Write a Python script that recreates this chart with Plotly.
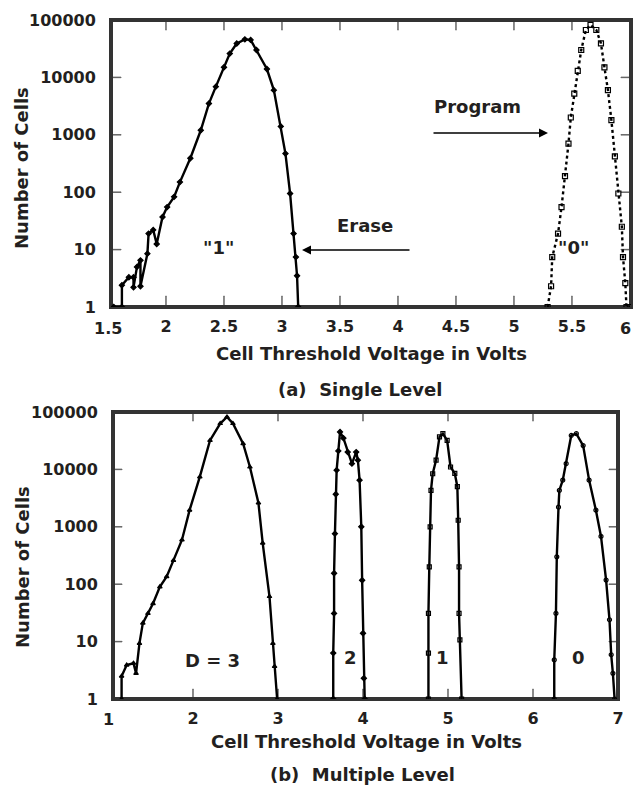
import plotly.graph_objects as go

W, H = 633, 795

# ---------------- data: (a) single level ----------------
erase1_v = [1.55, 1.62, 1.62, 1.68, 1.72, 1.72, 1.75, 1.78, 1.78, 1.84, 1.85, 1.89, 1.92, 1.97,
            2.01, 2.07, 2.12, 2.21, 2.30, 2.37, 2.43, 2.50, 2.55, 2.61, 2.68, 2.73, 2.78, 2.87,
            2.93, 2.99, 3.03, 3.07, 3.10, 3.12, 3.13, 3.14]
erase1_n = [1, 1, 2.4, 3.3, 3.3, 2.2, 5, 6.5, 2.3, 8.5, 19, 22, 12.5, 37,
            55, 83, 150, 390, 1200, 3500, 6900, 15000, 26000, 39000, 46000, 45000, 30000, 14000,
            6000, 1400, 470, 95, 19, 7.4, 3.5, 1]

prog0_v = [5.29, 5.32, 5.33, 5.38, 5.41, 5.44, 5.47, 5.49, 5.52, 5.55, 5.58, 5.62, 5.66,
           5.71, 5.75, 5.78, 5.81, 5.84, 5.87, 5.90, 5.93, 5.94, 5.96, 5.97, 6.0]
prog0_n = [1, 2.3, 7.4, 19, 55, 190, 700, 2000, 5200, 13000, 30000, 67000, 82000,
           67000, 39000, 15000, 6000, 1800, 420, 95, 25, 7.4, 2.6, 1, 1]

# ---------------- data: (b) multiple level ----------------
d3_v = [1.16, 1.16, 1.22, 1.30, 1.33, 1.37, 1.41, 1.47, 1.53, 1.61, 1.69, 1.77, 1.87, 1.96,
        2.08, 2.20, 2.32, 2.40, 2.47, 2.59, 2.67, 2.77, 2.82, 2.90, 2.94, 2.96, 2.99]
d3_n = [1, 2.5, 3.9, 4.2, 2.8, 9.3, 21, 31, 46, 90, 135, 260, 590, 1950,
        7400, 32000, 63000, 82000, 63000, 28000, 11000, 2600, 520, 61, 9.3, 3.7, 1]

d2_v = [3.65, 3.65, 3.66, 3.66, 3.67, 3.68, 3.69, 3.71, 3.73, 3.77, 3.82, 3.87, 3.92, 3.94,
        3.96, 3.98, 3.99, 4.00, 4.01, 4.02]
d2_n = [1, 6.3, 31, 155, 760, 3700, 9700, 21000, 45000, 35000, 20000, 12600, 20000, 14500,
        6500, 1000, 117, 14, 2.3, 1]

d1_v = [4.77, 4.77, 4.77, 4.78, 4.79, 4.80, 4.82, 4.86, 4.90, 4.94, 4.99, 5.03, 5.08, 5.11,
        5.12, 5.13, 5.13, 5.14, 5.16]
d1_n = [1, 6.3, 31, 200, 1000, 4300, 8400, 14500, 37000, 42000, 32000, 11000, 8500, 5000,
        1300, 200, 31, 10.7, 1]

d0_v = [6.25, 6.25, 6.27, 6.28, 6.30, 6.31, 6.35, 6.39, 6.45, 6.51, 6.59, 6.66, 6.74, 6.80,
        6.86, 6.90, 6.92, 6.94, 6.96]
d0_n = [1, 4.8, 31, 300, 2200, 4300, 6500, 12600, 39000, 42000, 26000, 6500, 1950, 680,
        118, 24, 5.9, 2.8, 1]

y_ticks = [1, 10, 100, 1000, 10000, 100000]
y_labels = ["1", "10", "100", "1000", "10000", "100000"]
xa_ticks = [2, 2.5, 3, 3.5, 4, 4.5, 5, 5.5]
xa_labels = ["2", "2.5", "3", "3.5", "4", "4.5", "5", "5.5"]
xb_ticks = [2, 3, 4, 5, 6, 7]
xb_labels = ["2", "3", "4", "5", "6", "7"]

# axis ranges (x in volts, y in decades of the log axis)
XA_RANGE = [1.526, 6.009]
XB_RANGE = [1.059, 7.0]
Y_RANGE = [0, 5]

# ---------------- styling ----------------
FONT = "DejaVu Sans"
TXT = "#231f20"
FRAME = "#333333"
TICKC = "#666666"
tickfont = dict(family=FONT, size=16, weight="bold", color=TXT)
labfont = dict(family=FONT, size=18, weight="bold", color=TXT)

def px(x):
    return x / W

def py(y):
    return 1 - y / H

# plot-area boxes in pixels: (left, right, top, bottom)
BOX_A = (111, 631, 20, 307)
BOX_B = (113, 618, 412, 699)

fig = go.Figure()

# frame + inside tick marks, drawn through the axes themselves
def frame(box, xa, ya, xr, xt, yt, lb, lt, ly):
    l, r, t, b = box
    ux = (xr[1] - xr[0]) / (r - l)
    uy = (Y_RANGE[1] - Y_RANGE[0]) / (b - t)
    ylo, yhi = 10 ** Y_RANGE[0], 10 ** Y_RANGE[1]
    tx, ty = [], []
    for v in xt:
        tx += [v, v, None, v, v, None]
        ty += [ylo, 10 ** (Y_RANGE[0] + lb * uy), None,
               yhi, 10 ** (Y_RANGE[1] - lt * uy), None]
    for v in yt:
        tx += [xr[0], xr[0] + ly * ux, None, xr[1], xr[1] - ly * ux, None]
        ty += [v, v, None, v, v, None]
    fig.add_trace(go.Scatter(x=tx, y=ty, xaxis=xa, yaxis=ya, mode="lines+markers",
                             line=dict(color=TICKC, width=1.5),
                             marker=dict(size=1, color=TICKC),
                             hoverinfo="skip", showlegend=False))
    fig.add_trace(go.Scatter(x=[xr[0], xr[1], xr[1], xr[0], xr[0]],
                             y=[ylo, ylo, yhi, yhi, ylo], xaxis=xa, yaxis=ya,
                             mode="lines+markers", line=dict(color=FRAME, width=4),
                             marker=dict(size=1, color=FRAME),
                             hoverinfo="skip", showlegend=False))

frame(BOX_A, "x", "y", XA_RANGE, xa_ticks, y_ticks[1:-1], 11, 10, 10)
frame(BOX_B, "x2", "y2", XB_RANGE, xb_ticks[:-1], y_ticks[1:-1], 10, 9, 9)

def add(xv, yv, xa, ya, symbol, size, dash="solid", lw=2.4):
    fig.add_trace(go.Scatter(
        x=xv, y=yv, xaxis=xa, yaxis=ya, mode="lines+markers",
        line=dict(color="black", width=lw, dash=dash),
        marker=dict(symbol=symbol, size=size, color="black",
                    line=dict(color="black", width=1.2)),
        showlegend=False))

add(erase1_v, erase1_n, "x", "y", "diamond", 4)
add(prog0_v, prog0_n, "x", "y", "square-open", 5, dash="dot", lw=2.4)
add(d3_v, d3_n, "x2", "y2", "triangle-up", 4)
add(d2_v, d2_n, "x2", "y2", "diamond", 4)
add(d1_v, d1_n, "x2", "y2", "square-open", 4)
add(d0_v, d0_n, "x2", "y2", "circle-open", 4)

# empty traces so the top/right overlay axes (frame sides) get drawn
fig.add_trace(go.Scatter(x=[], y=[], xaxis="x3", yaxis="y3", showlegend=False,
                         hoverinfo="skip"))
fig.add_trace(go.Scatter(x=[], y=[], xaxis="x4", yaxis="y4", showlegend=False,
                         hoverinfo="skip"))

axis_common = dict(showgrid=False, zeroline=False, showline=True, linecolor=FRAME,
                   linewidth=2, ticks="", tickfont=tickfont)
side_axis = dict(showgrid=False, zeroline=False, showline=True, linecolor=FRAME,
                 linewidth=2, ticks="", showticklabels=False)

fig.update_layout(
    width=W, height=H, margin=dict(l=0, r=0, t=0, b=0, autoexpand=False),
    paper_bgcolor="white", plot_bgcolor="white",
    xaxis=dict(domain=[px(BOX_A[0]), px(BOX_A[1])], range=XA_RANGE, anchor="y",
               tickvals=xa_ticks, ticktext=xa_labels, ticklabelstandoff=4, **axis_common),
    yaxis=dict(domain=[py(BOX_A[3]), py(BOX_A[2])], type="log", range=Y_RANGE, anchor="x",
               tickvals=y_ticks, ticktext=y_labels, ticklabelstandoff=10, **axis_common),
    xaxis2=dict(domain=[px(BOX_B[0]), px(BOX_B[1])], range=XB_RANGE, anchor="y2",
                tickvals=xb_ticks, ticktext=xb_labels, ticklabelstandoff=4, **axis_common),
    yaxis2=dict(domain=[py(BOX_B[3]), py(BOX_B[2])], type="log", range=Y_RANGE, anchor="x2",
                tickvals=y_ticks, ticktext=y_labels, ticklabelstandoff=10, **axis_common),
    xaxis3=dict(overlaying="x", side="top", anchor="y", range=XA_RANGE, **side_axis),
    yaxis3=dict(overlaying="y", side="right", anchor="x", type="log", range=Y_RANGE,
                **side_axis),
    xaxis4=dict(overlaying="x2", side="top", anchor="y2", range=XB_RANGE, **side_axis),
    yaxis4=dict(overlaying="y2", side="right", anchor="x2", type="log", range=Y_RANGE,
                **side_axis),
)

def text(t, x, y, font=labfont, angle=0, xanchor="center"):
    fig.add_annotation(text=t, x=px(x), y=py(y), xref="paper", yref="paper",
                       showarrow=False, font=font, textangle=angle,
                       xanchor=xanchor, yanchor="middle")

def arrow(x_head, x_tail, y):
    fig.add_annotation(text="", x=px(x_head), y=py(y), xref="paper", yref="paper",
                       ax=x_tail - x_head, ay=0, axref="pixel", ayref="pixel",
                       showarrow=True, arrowhead=2, arrowsize=1.2, arrowwidth=1.5,
                       arrowcolor="black")

# tick labels at the very ends of the x axes
text("1.5", 108, 328, tickfont)
text("6", 633, 328, tickfont, xanchor="right")
text("1", 108, 719, tickfont)

# axis titles
text("Number of Cells", 22, 168, labfont, -90)
text("Number of Cells", 22, 567, labfont, -90)
text("Cell Threshold Voltage in Volts", 371, 353)
text("Cell Threshold Voltage in Volts", 366, 741)

# captions
text("(a)  Single Level", 360, 389)
text("(b)  Multiple Level", 362, 774)

# annotations in (a)
text("Program", 478, 107)
arrow(548, 432, 133)
text("Erase", 365, 226)
arrow(302, 411, 250)
text('"1"', 218, 248)
text('"0"', 573, 248)

# annotations in (b)
text("D = 3", 213, 660)
text("2", 351, 657)
text("1", 442, 657)
text("0", 578, 657)

fig.write_html("out.html", config={"displayModeBar": False},
               post_script="document.body.style.margin='0';document.body.style.overflow='hidden';")
